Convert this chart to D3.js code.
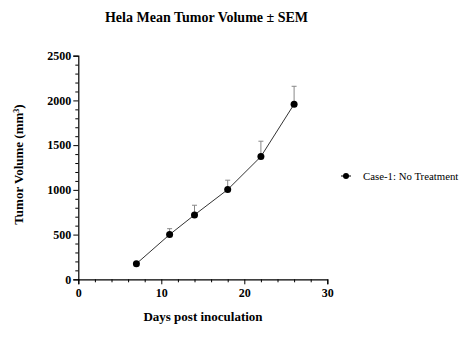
<!DOCTYPE html>
<html><head><meta charset="utf-8">
<script src="https://cdn.jsdelivr.net/npm/d3@7"></script>
<style>body{margin:0;background:#fff}</style>
</head><body>
<script>
const days = [7, 11, 14, 18, 22, 26];
const meanVolume = [174, 500, 720, 1003, 1372, 1958];
const sem = [0, 66, 108, 105, 172, 200];
const xTicks = [0, 10, 20, 30];
const yTicks = [0, 500, 1000, 1500, 2000, 2500];
const seriesName = "Case-1: No Treatment";

const W = 472, H = 350;
const svg = d3.select("body").append("svg").attr("width", W).attr("height", H);
const font = "'Liberation Serif', 'Times New Roman', serif";

const x = d3.scaleLinear().domain([0, 30]).range([78.3, 327.3]);
const y = d3.scaleLinear().domain([0, 2500]).range([279.3, 55.7]);

// Title
svg.append("text").attr("x", 206.5).attr("y", 22).attr("text-anchor", "middle")
  .style("font-family", font).style("font-weight", "bold").style("font-size", "14px")
  .text("Hela Mean Tumor Volume \u00B1 SEM");

// Axes
svg.append("g").attr("transform", `translate(0,${y(0)})`)
  .call(d3.axisBottom(x).tickValues(xTicks).tickSize(5).tickPadding(4).tickFormat(d3.format("d")));
svg.append("g").attr("transform", `translate(0,${y(0)})`)
  .call(d3.axisBottom(x).tickValues(d3.range(0, 31, 2).filter(v => v % 10)).tickSize(3).tickFormat(""))
  .select(".domain").remove();
svg.append("g").attr("transform", `translate(${x(0)},0)`)
  .call(d3.axisLeft(y).tickValues(yTicks).tickSize(5).tickPadding(2).tickFormat(d3.format("d")));
svg.append("g").attr("transform", `translate(${x(0)},0)`)
  .call(d3.axisLeft(y).tickValues(d3.range(0, 2501, 100).filter(v => v % 500)).tickSize(3).tickFormat(""))
  .select(".domain").remove();
svg.selectAll(".domain").attr("stroke", "#000").attr("stroke-width", 1.2);
svg.selectAll(".tick line").attr("stroke", "#000");
svg.selectAll(".tick text").style("font-family", font).style("font-weight", "bold")
  .style("font-size", "12px").attr("fill", "#000");

// Axis labels
svg.append("text").attr("x", 203).attr("y", 321).attr("text-anchor", "middle")
  .style("font-family", font).style("font-weight", "bold").style("font-size", "13px")
  .text("Days post inoculation");
const yl = svg.append("text").attr("transform", `translate(23,${(y(0)+y(2500))/2 - 3}) rotate(-90)`)
  .attr("text-anchor", "middle")
  .style("font-family", font).style("font-weight", "bold").style("font-size", "13px");
yl.append("tspan").text("Tumor Volume (mm");
yl.append("tspan").attr("baseline-shift", "super").style("font-size", "8px").text("3");
yl.append("tspan").text(")");

// Error bars (upper only)
const data = days.map((d, i) => ({d, m: meanVolume[i], s: sem[i]}));
const eb = svg.append("g").attr("stroke", "#888").attr("stroke-width", 1);
data.filter(p => p.s > 0).forEach(p => {
  eb.append("line").attr("x1", x(p.d)).attr("x2", x(p.d)).attr("y1", y(p.m)).attr("y2", y(p.m + p.s));
  eb.append("line").attr("x1", x(p.d) - 2.5).attr("x2", x(p.d) + 2.5).attr("y1", y(p.m + p.s)).attr("y2", y(p.m + p.s));
});

// Line
svg.append("path").datum(data)
  .attr("d", d3.line().x(p => x(p.d)).y(p => y(p.m)))
  .attr("fill", "none").attr("stroke", "#333").attr("stroke-width", 1);

// Points
svg.append("g").selectAll("circle").data(data).join("circle")
  .attr("cx", p => x(p.d)).attr("cy", p => y(p.m)).attr("r", 3.5).attr("fill", "#000");

// Legend
const lg = svg.append("g").attr("transform", "translate(346,176)");
lg.append("line").attr("x1", -5).attr("x2", 5).attr("stroke", "#000").attr("stroke-width", 1);
lg.append("circle").attr("r", 3).attr("fill", "#000");
lg.append("text").attr("x", 17).attr("y", 4).style("font-family", font).style("font-size", "10.8px")
  .text(seriesName);
</script>
</body></html>
